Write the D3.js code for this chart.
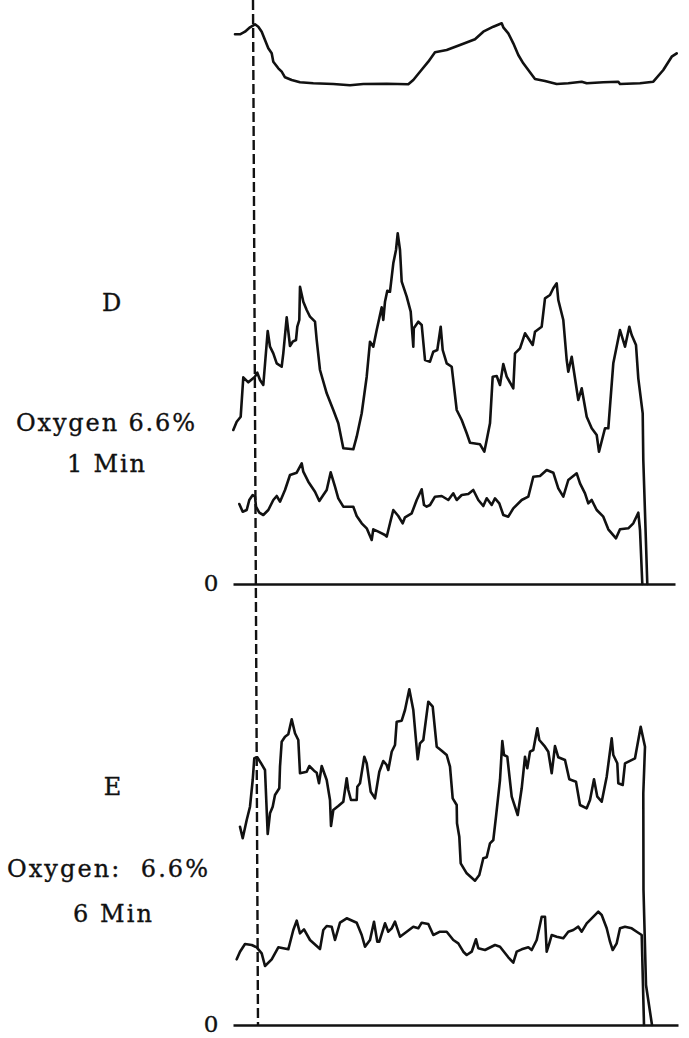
<!DOCTYPE html>
<html>
<head>
<meta charset="utf-8">
<script src="https://cdn.jsdelivr.net/npm/d3@7"></script>
<style>
  html, body { margin: 0; padding: 0; background: #fff; }
  svg { display: block; }
  text { font-family: "DejaVu Serif", "Liberation Serif", serif; fill: #111; stroke: #111; stroke-width: 0.35px; }
</style>
</head>
<body>
<svg id="chart" width="689" height="1038"></svg>
<script>
// Recording traces: [time, amplitude] pairs in chart units.
// Reference pulse trace (top strip).
const pulseTrace = [
  [2,65.7],[7,65.7],[12,68.3],[17,72.7],[22,75.7],[25.3,73.3],[28.7,68.3],[32,60],
  [35.3,51.7],[38.7,46.7],[40.3,38.3],[45.3,31.7],[48.7,28.3],[52,22.7],[58.7,20],
  [67,17.7],[80.3,16.7],[100.3,16],[117,14.7],[130.3,16],[153.7,16.3],[175.3,15.7],
  [180.3,20],[187,28.3],[195.3,38.3],[202,47.7],[213.7,50],[227,55],[242,60.7],
  [250.3,68.3],[260.3,73.3],[268.7,76.7],[270.3,72.7],[275.3,66.7],[280.3,56.7],
  [285.3,45],[290.3,36.7],[295.3,30],[302,21],[312,19],[323.7,16],[335.3,16.7],
  [348.7,18.3],[353.7,16.7],[370.3,17.7],[385.3,18.3],[387,16],[407,16.7],
  [420.3,18.3],[430.3,30],[438.7,43.3],[443.7,46.7]
];

// Panel D, upper trace
const dUpper = [
  [0.3,154],[3.7,162.3],[7.7,167.3],[10.3,206.7],[15.3,201.7],[22,207.3],[24.3,211.3],
  [27,204],[30.3,199],[34.7,253],[37,237.3],[40.3,230.7],[43.7,220.7],[48.7,217.3],
  [50.3,230.7],[53.7,266.7],[57,238],[59.7,242.3],[63,244],[64.3,257.3],[66.3,264],
  [67,297.3],[70.3,282.3],[73.7,274],[77,267.3],[82,262.3],[83.7,244],[87,214],
  [93.7,190.7],[100.3,174],[105.3,160.7],[110.3,135.7],[120.3,134.7],[123.7,147.3],
  [128.7,170.7],[133.7,207.3],[137,242.3],[140.3,237.3],[143.7,254],[148.7,276.7],
  [150.3,264],[152,282.3],[154.3,293.3],[157,292.3],[160.3,320.7],[163,334],
  [164.7,350.7],[167,334],[168.7,302.3],[173.7,287.3],[177.7,272.3],[180.3,237.3],
  [180.8,255.7],[185.3,262.3],[188.7,259],[192,224],[197,222.3],[200.3,232.3],
  [204.3,234],[207.7,257.3],[209.7,234],[213.7,220.7],[218.7,217.3],[223.7,174],
  [228.7,164],[233.7,150.7],[237,141.3],[247,139.7],[251.3,132.3],[253.7,144],
  [257,160.7],[259.7,207.3],[263.7,208],[267,199],[270.3,220],[273.7,207.3],
  [280.3,195.7],[282,230.7],[287,235.7],[292,250.7],[295.3,245.7],[299.7,239],
  [302,252.3],[308.7,257.3],[312,285.7],[317,289],[320.3,295.7],[323.7,300.7],
  [325.3,284],[330.3,264],[333.7,224],[335.3,212.3],[338.7,227.3],[345.3,184],
  [348.7,195.7],[353.7,167.3],[358.7,155.7],[363.7,149],[366,132.3],[372,155.7],
  [375.3,155.7],[380.3,220.7],[387,254],[392,237.3],[396.3,257.3],[398.7,249],
  [403,239],[405.3,205.7],[409.7,170.7],[410.3,124],[414.3,0]
];

// Panel D, lower trace
const dLower = [
  [6.3,80],[9.7,72.3],[13.7,74],[16.3,84],[19.7,89],[22,87.3],[23,77.3],[26.3,71.3],
  [30.3,69],[35.3,74],[40.3,84],[43.7,88],[47,82.3],[52,94],[57,109],[63.7,111.3],
  [68.7,120.7],[70.3,112.3],[75.3,102.3],[82,92.3],[86.3,83],[90.3,89],[93.7,94],
  [97.7,111.7],[102,97.3],[105.3,85.7],[110.3,77.3],[120.3,77.3],[123.7,68],
  [128.7,60.7],[133.7,55.7],[138.7,44],[140.3,54.7],[145.3,52.3],[152,49],[153.7,47.3],
  [157,60.7],[160.3,74],[165.3,68],[169.7,60.7],[172,66.7],[178.7,70.7],[183.7,84],
  [188.7,94.7],[191,79],[193.7,77.3],[197,79],[202,87.3],[208.7,88],[215.3,84],
  [220.3,90.7],[223.7,84],[228.7,89],[235.3,90],[240.3,94],[245.3,84],[250.3,78],
  [253.7,85.7],[258.7,79],[262,85.7],[266.3,80.7],[270.3,69],[275.3,67.3],[280.3,75.7],
  [288.7,84],[295.3,87.3],[300.3,107.3],[307,108],[313.7,114],[320.3,111.3],
  [325.3,95.7],[330.3,87.3],[335.3,104],[343.7,110.7],[347,100.7],[352,90.7],
  [355.3,80.7],[358.7,84],[363.7,74],[370.3,67.3],[375.3,54.7],[383,45.7],[387,54.7],
  [395.3,55.7],[400.3,60.7],[405.3,71.3],[407,54],[409.3,0]
];

// Panel E, upper trace
const eUpper = [
  [7,198.3],[9.7,186.7],[13.7,205],[17,218.3],[19.7,245],[21.3,266.7],[24.3,267.7],
  [27.7,262.3],[32,255],[34.7,191],[37,211.7],[39.7,218.3],[42,230],[46.3,236.7],
  [47,258.3],[48.7,283.3],[52,288.3],[55.3,290.7],[58.7,305.7],[62,291.7],[65.3,285],
  [67,251.7],[73.7,253.3],[76.3,259],[81,254.3],[83.7,252.3],[86,241.7],[88.7,259],
  [93.7,245],[97,225],[98,199],[100.3,215],[105.3,219],[110.3,223.3],[113.7,246.7],
  [115.3,235],[118,225],[123.7,225],[124.3,238.3],[127,241.7],[131.3,268.3],
  [133.7,261.7],[137.7,233.3],[142,226.7],[146.3,253.3],[150.3,264],[153.7,260],
  [155.3,255],[158.7,273.3],[162,280],[163.7,303.3],[168.7,304.3],[172,315],
  [176.3,335.7],[180.3,315],[184.7,265.7],[187,281.7],[190.3,285],[195.3,323.3],
  [199.7,318.3],[203.7,278.3],[208.7,274.3],[213.7,270],[217,258.3],[219.7,226.7],
  [223.7,220],[224,201.7],[226.3,188.3],[227.7,161.7],[233.7,151.7],[242,144.3],
  [246.3,150],[250.3,166.7],[253.7,167.7],[257,181.7],[260.3,185],[263,208.3],
  [267,245],[269.3,284],[271,270],[274.3,268.3],[278.7,228.3],[284.7,210],
  [288.7,236.7],[292,268.3],[294.3,256.7],[297,273.3],[300.3,275],[304.3,296.7],
  [306.3,285],[312,278.3],[315.3,273.3],[318.7,251.7],[322,279],[325.3,267.7],
  [332,265],[336.3,245.7],[343,243.3],[347,220],[353.7,216.7],[357,225],[361,245.7],
  [364.3,228.3],[368.7,223.3],[373.7,248.3],[378.7,286.7],[380.3,270],[384.3,261.7],
  [385.3,241.7],[389.7,240],[392,261.7],[402,266.7],[407.7,298.3],[412,278.3],
  [410.3,231.7],[410.5,135],[413,40],[419,0]
];

// Panel E, lower trace
const eLower = [
  [3.7,65.7],[7,73.3],[12,81],[18.7,80],[23.7,77.7],[28.7,71.7],[32,59],[38.7,65.7],
  [45.3,77.7],[55.3,75.7],[60.3,95],[63.7,104.3],[67,91.7],[71,95.7],[77,85],[87,76],
  [90.3,95],[93.7,99],[98.7,98.3],[102,85],[107,102.3],[113.7,106.7],[123.7,102.3],
  [128.7,90],[132,78.3],[137,85],[141,103.3],[144.3,83.3],[146.3,83.3],[152,101.7],
  [155.3,93.3],[158.7,96.7],[162,103.3],[167,88.3],[173.7,93.3],[180.3,98.3],
  [185.3,96.7],[188.7,102.3],[195.3,101],[200.3,90],[207,93.3],[213.7,93.3],[220.3,85],
  [225.3,81.7],[230.3,73.3],[233.7,70],[238.7,73.3],[243,85.7],[245.3,76.7],[252,75],
  [262,80],[267,78.3],[275.3,67.7],[280.3,62.3],[283.7,73.3],[288.7,75.7],[295.3,77.7],
  [298.7,75],[303.7,85],[308.7,108.3],[312,108.3],[313.7,73.3],[316.3,81.7],
  [318.7,90],[323.7,88.3],[330.3,86.7],[335.3,93.3],[340.3,95],[345.3,98.3],
  [348.7,93.3],[353.7,101.7],[358.7,106.7],[365.3,113.3],[368.7,110],[373.7,96.7],
  [377,83.3],[379.7,75],[383.7,81.7],[387,96.7],[392,98.3],[398.7,96.7],[403.7,93.3],
  [408.7,90],[411,0]
];

// Time extent of each zero line and the dashed time marker (top -> bottom)
const dAxisSpan = [0, 442];
const eAxisSpan = [0, 445];
const markerTime = [20, 25];

// Panel captions
const dLabels = ["D", "Oxygen 6.6%", "1 Min"];
const eLabels = ["E", "Oxygen:\u00a0 6.6%", "6 Min"];
const zeroTick = "0";

const svg = d3.select("#chart");

// Shared time axis
const x = d3.scaleLinear().domain([0, 450]).range([233, 683]);

// Vertical scales for the three strips
const yPulse = d3.scaleLinear().domain([0, 100]).range([100, 0]);
const yD = d3.scaleLinear().domain([0, 360]).range([584, 224]);
const yE = d3.scaleLinear().domain([0, 360]).range([1025, 665]);

function trace(data, y) {
  svg.append("path")
    .datum(data)
    .attr("fill", "none")
    .attr("stroke", "#111")
    .attr("stroke-width", 2.6)
    .attr("stroke-linejoin", "round")
    .attr("stroke-linecap", "round")
    .attr("d", d3.line().x(d => x(d[0])).y(d => y(d[1])));
}

// Zero lines drawn as bottom axes without ticks
function zeroLine(span, y) {
  const s = d3.scaleLinear().domain(span).range(span.map(x));
  const g = svg.append("g")
    .attr("transform", `translate(0,${y(0)})`)
    .call(d3.axisBottom(s).tickValues([]).tickSizeOuter(0));
  g.select(".domain").attr("stroke", "#111").attr("stroke-width", 2.4);
  svg.append("text")
    .attr("x", x(span[0]) - 22)
    .attr("y", y(0) + 7)
    .attr("text-anchor", "middle")
    .attr("font-size", 23)
    .text(zeroTick);
}

zeroLine(dAxisSpan, yD);
zeroLine(eAxisSpan, yE);

trace(pulseTrace, yPulse);
trace(dUpper, yD);
trace(dLower, yD);
trace(eUpper, yE);
trace(eLower, yE);

// Dashed time marker across all strips
svg.append("line")
  .attr("x1", x(markerTime[0])).attr("y1", 0)
  .attr("x2", x(markerTime[1])).attr("y2", yE(0))
  .attr("stroke", "#111")
  .attr("stroke-width", 2.4)
  .attr("stroke-dasharray", "10,4");

// Captions
function caption(lines, cx, ys, widths) {
  lines.forEach((t, i) => {
    const el = svg.append("text")
      .attr("x", cx[i])
      .attr("y", ys[i])
      .attr("text-anchor", "middle")
      .attr("font-size", 24)
      .style("white-space", "pre")
      .text(t);
    if (widths[i]) el.attr("textLength", widths[i]).attr("lengthAdjust", "spacing");
  });
}

caption(dLabels, [111.5, 105.5, 106], [311, 431, 472], [0, 179, 78]);
caption(eLabels, [112.5, 107.5, 112.5], [795, 877, 922], [0, 201, 79]);
</script>
</body>
</html>
